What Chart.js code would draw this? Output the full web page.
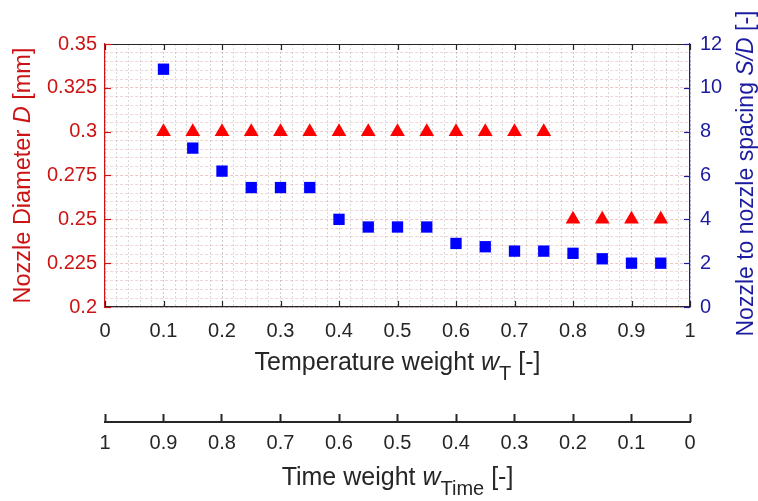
<!DOCTYPE html>
<html>
<head>
<meta charset="utf-8">
<script src="https://cdn.jsdelivr.net/npm/chart.js@4.4.1/dist/chart.umd.min.js"></script>
<style>
  html, body { margin: 0; padding: 0; background: #fff; }
  #wrap { width: 758px; height: 501px; }
</style>
</head>
<body>
<div id="wrap"><canvas id="chart"></canvas></div>
<script>
// temperature weight wT (the lower axis shows time weight = 1 - wT)
const tempWeight = [0.1, 0.15, 0.2, 0.25, 0.3, 0.35, 0.4, 0.45, 0.5, 0.55, 0.6, 0.65, 0.7, 0.75, 0.8, 0.85, 0.9, 0.95];
// nozzle diameter D [mm] - red triangles, left axis
const nozzleDiameter = [0.3, 0.3, 0.3, 0.3, 0.3, 0.3, 0.3, 0.3, 0.3, 0.3, 0.3, 0.3, 0.3, 0.3, 0.25, 0.25, 0.25, 0.25];
// nozzle to nozzle spacing S/D [-] - blue squares, right axis
const spacingRatio = [10.85, 7.25, 6.2, 5.45, 5.45, 5.45, 4.0, 3.65, 3.65, 3.65, 2.9, 2.75, 2.55, 2.55, 2.45, 2.2, 2.0, 2.0];

// tick labels
const tempTicks = ['0', '0.1', '0.2', '0.3', '0.4', '0.5', '0.6', '0.7', '0.8', '0.9', '1'];
const timeTicks = ['1', '0.9', '0.8', '0.7', '0.6', '0.5', '0.4', '0.3', '0.2', '0.1', '0'];
const diameterTicks = ['0.2', '0.225', '0.25', '0.275', '0.3', '0.325', '0.35'];
const spacingTicks = ['0', '2', '4', '6', '8', '10', '12'];

const FONT = '"Liberation Sans", Arial, sans-serif';
const GRAY = '#262626';
const RED = '#cc1414';
const BLUE = '#1c1ca0';

// draws a label made of runs (italic / subscript parts)
function drawRich(ctx, runs, x, y, size, color, angle) {
    ctx.save();
    ctx.translate(x, y);
    ctx.rotate(angle);
    ctx.fillStyle = color;
    ctx.textBaseline = 'alphabetic';
    const fontOf = r => (r.italic ? 'italic ' : '') + (r.sub ? size * 0.8 : size) + 'px ' + FONT;
    let total = 0;
    runs.forEach(r => { ctx.font = fontOf(r); total += ctx.measureText(r.text).width; });
    let cx = -total / 2;
    runs.forEach(r => {
        ctx.font = fontOf(r);
        ctx.fillText(r.text, cx, r.sub ? size * 0.4 : 0);
        cx += ctx.measureText(r.text).width;
    });
    ctx.restore();
}

// matlab style frame: inward ticks, top line, lower axis line and titles
const frame = {
    id: 'frame',
    afterDraw(chart) {
        const { ctx, chartArea: a, scales } = chart;
        const line = (x1, y1, x2, y2, color, w) => {
            ctx.strokeStyle = color;
            ctx.lineWidth = w;
            ctx.beginPath();
            ctx.moveTo(x1, y1);
            ctx.lineTo(x2, y2);
            ctx.stroke();
        };
        ctx.save();
        line(a.left, a.top + 0.5, a.right, a.top + 0.5, GRAY, 1.2);
        scales.x.ticks.forEach((t, i) => {
            if (i % 5) return;
            const px = Math.round(scales.x.getPixelForValue(t.value)) + 0.5;
            line(px, a.bottom, px, a.bottom - 6, GRAY, 1.2);
            line(px, a.top, px, a.top + 6, GRAY, 1.2);
        });
        scales.y.ticks.forEach((t, i) => {
            if (i % 5) return;
            const py = Math.round(scales.y.getPixelForValue(t.value)) + 0.5;
            line(a.left, py, a.left + 6, py, RED, 1.2);
        });
        scales.y2.ticks.forEach(t => {
            const py = Math.round(scales.y2.getPixelForValue(t.value)) + 0.5;
            line(a.right, py, a.right - 6, py, BLUE, 1.2);
        });
        const x2 = scales.x2;
        line(x2.left - 1, x2.top + 8, x2.right + 1, x2.top + 8, GRAY, 2);

        drawRich(ctx, [{ text: 'Nozzle Diameter ' }, { text: 'D', italic: true }, { text: ' [mm]' }],
            30, (a.top + a.bottom) / 2, 23.5, RED, -Math.PI / 2);
        drawRich(ctx, [{ text: 'Nozzle to nozzle spacing ' }, { text: 'S/D', italic: true }, { text: ' [-]' }],
            753, (a.top + a.bottom) / 2 - 2, 23, BLUE, -Math.PI / 2);
        drawRich(ctx, [{ text: 'Temperature weight ' }, { text: 'w', italic: true }, { text: 'T', sub: true }, { text: ' [-]' }],
            (a.left + a.right) / 2, scales.x.top + 63, 25, GRAY, 0);
        drawRich(ctx, [{ text: 'Time weight ' }, { text: 'w', italic: true }, { text: 'Time', sub: true }, { text: ' [-]' }],
            (a.left + a.right) / 2, x2.top + 71, 25, GRAY, 0);
        ctx.restore();
    }
};

const points = (xs, ys) => xs.map((x, i) => ({ x: x, y: ys[i] }));

new Chart(document.getElementById('chart'), {
    type: 'scatter',
    data: {
        datasets: [
            {
                label: 'Nozzle Diameter',
                data: points(tempWeight, nozzleDiameter),
                yAxisID: 'y',
                xAxisID: 'x',
                pointStyle: 'triangle',
                pointRadius: 8.5,
                pointHoverRadius: 8.5,
                backgroundColor: '#ff0000',
                borderColor: '#ff0000',
                borderWidth: 0
            },
            {
                label: 'S/D',
                data: points(tempWeight, spacingRatio),
                yAxisID: 'y2',
                xAxisID: 'x',
                pointStyle: 'rect',
                pointRadius: 8,
                pointHoverRadius: 8,
                backgroundColor: '#0000ff',
                borderColor: '#0000ff',
                borderWidth: 0
            }
        ]
    },
    options: {
        responsive: true,
        maintainAspectRatio: false,
        animation: false,
        events: [],
        layout: { padding: { top: 44, left: 0, right: 0, bottom: 0 } },
        plugins: { legend: { display: false }, tooltip: { enabled: false } },
        scales: {
            x: {
                type: 'linear',
                position: 'bottom',
                weight: 0,
                min: 0,
                max: 1,
                afterFit: s => { s.height = 107; },
                ticks: {
                    stepSize: 0.02,
                    autoSkip: false,
                    maxRotation: 0,
                    padding: 12,
                    color: GRAY,
                    font: { family: FONT, size: 20 },
                    callback: (v, i) => (i % 5 === 0 ? tempTicks[i / 5] : '')
                },
                grid: {
                    drawTicks: false,
                    color: ctx => (ctx.index % 5 === 0 ? 'rgba(0,0,0,0.2)' : 'rgba(0,0,0,0.15)'),
                    lineWidth: 1
                },
                border: { color: GRAY, width: 1.2, dash: [2, 2] }
            },
            x2: {
                type: 'linear',
                position: 'bottom',
                weight: 1,
                min: 0,
                max: 1,
                reverse: true,
                afterFit: s => { s.height = 87; },
                ticks: {
                    stepSize: 0.1,
                    autoSkip: false,
                    maxRotation: 0,
                    padding: 9,
                    color: GRAY,
                    font: { family: FONT, size: 20 },
                    callback: (v, i) => timeTicks[i]
                },
                grid: {
                    drawOnChartArea: false,
                    drawTicks: true,
                    tickLength: 8,
                    tickColor: GRAY,
                    tickWidth: 2
                },
                border: { display: false }
            },
            y: {
                type: 'linear',
                position: 'left',
                min: 0.2,
                max: 0.35,
                afterFit: s => { s.width = 105; },
                ticks: {
                    stepSize: 0.005,
                    autoSkip: false,
                    padding: 8,
                    color: RED,
                    font: { family: FONT, size: 20 },
                    callback: (v, i) => (i % 5 === 0 ? diameterTicks[i / 5] : '')
                },
                grid: {
                    drawTicks: false,
                    color: ctx => (ctx.index % 5 === 0 ? 'rgba(200,60,60,0.3)' : 'rgba(200,60,60,0.22)'),
                    lineWidth: 1
                },
                border: { color: RED, width: 1.2, dash: [3, 2] }
            },
            y2: {
                type: 'linear',
                position: 'right',
                min: 0,
                max: 12,
                afterFit: s => { s.width = 68; },
                ticks: {
                    stepSize: 2,
                    autoSkip: false,
                    padding: 10,
                    color: BLUE,
                    font: { family: FONT, size: 20 },
                    callback: (v, i) => spacingTicks[i]
                },
                grid: { display: false, drawTicks: false },
                border: { color: BLUE, width: 1.2 }
            }
        }
    },
    plugins: [frame]
});
</script>
</body>
</html>
